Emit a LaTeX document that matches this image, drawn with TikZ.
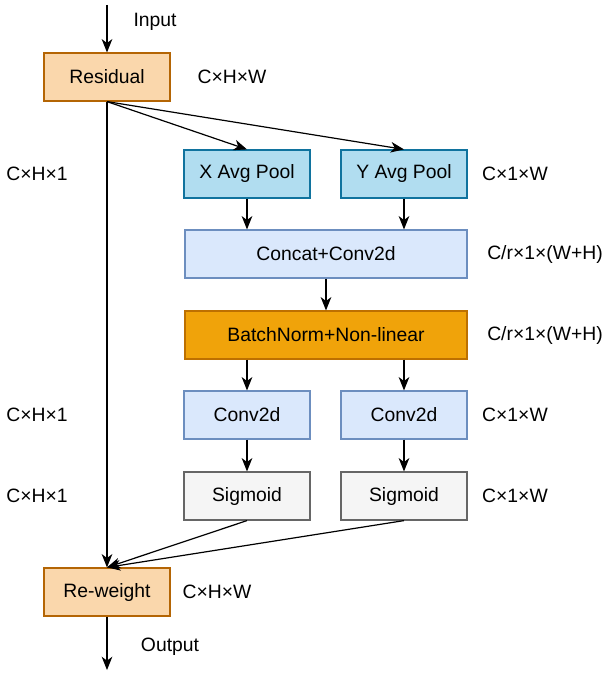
\documentclass[tikz,border=0pt]{standalone}
\usepackage{fontspec}
\setmainfont{Liberation Sans}
\usepackage{xcolor}
\usetikzlibrary{arrows.meta}

\definecolor{resfill}{HTML}{FAD7AC}
\definecolor{resline}{HTML}{B46504}
\definecolor{poolfill}{HTML}{B1DDF0}
\definecolor{poolline}{HTML}{10739E}
\definecolor{convfill}{HTML}{DAE8FC}
\definecolor{convline}{HTML}{6C8EBF}
\definecolor{bnfill}{HTML}{F0A30A}
\definecolor{bnline}{HTML}{BD7000}
\definecolor{sigfill}{HTML}{F5F5F5}
\definecolor{sigline}{HTML}{666666}

\begin{document}
\begin{tikzpicture}[x=0.75pt, y=-0.75pt,
    block/.style={rectangle, draw, line width=0.9pt, minimum width=94.5pt, minimum height=36pt, inner sep=0pt, font=\fontsize{14.5}{17}\selectfont},
    wide/.style={block, minimum width=211.5pt},
    resblock/.style={block, fill=resfill, draw=resline},
    poolblock/.style={block, fill=poolfill, draw=poolline},
    convblock/.style={block, fill=convfill, draw=convline},
    sigblock/.style={block, fill=sigfill, draw=sigline},
    dim/.style={font=\fontsize{14.5}{17}\selectfont, inner sep=0pt},
    arr/.style={-{Stealth[length=10pt, width=8pt, inset=3pt]}, line width=0.9pt}]

    \useasboundingbox (0,0) rectangle (608,674);

    \node[resblock] (res) at (107,77) {Residual};
    \node[poolblock] (xpool) at (247,174) {X Avg Pool};
    \node[poolblock] (ypool) at (404,174) {Y Avg Pool};
    \node[convblock, wide] (cat) at (326,254) {Concat+Conv2d};
    \node[block, wide, fill=bnfill, draw=bnline] (bn) at (326,335) {BatchNorm+Non-linear};
    \node[convblock] (convx) at (247,415) {Conv2d};
    \node[convblock] (convy) at (404,415) {Conv2d};
    \node[sigblock] (sigx) at (247,496) {Sigmoid};
    \node[sigblock] (sigy) at (404,496) {Sigmoid};
    \node[resblock] (rw) at (107,592) {Re-weight};

    \coordinate (in) at (107,5);
    \coordinate (out) at (107,670);

    \node[dim] (lin) at (155,22) {Input};
    \node[dim] (lout) at (170,647) {Output};
    \node[dim] (dres) at (232,77) {C×H×W};
    \node[dim] (dxl) at (37,174) {C×H×1};
    \node[dim] (dyr) at (515,174) {C×1×W};
    \node[dim] (dcat) at (545,254) {C/r×1×(W+H)};
    \node[dim] (dbn) at (545,335) {C/r×1×(W+H)};
    \node[dim] (dcxl) at (37,415) {C×H×1};
    \node[dim] (dcyr) at (515,415) {C×1×W};
    \node[dim] (dsxl) at (37,496) {C×H×1};
    \node[dim] (dsyr) at (515,496) {C×1×W};
    \node[dim] (drw) at (217,592) {C×H×W};

    \draw[arr] (in) -- (res);
    \draw[arr] (res.south) -- (xpool.north);
    \draw[arr] (res.south) -- (ypool.north);
    \draw[arr] (xpool) -- (xpool |- cat.north);
    \draw[arr] (ypool) -- (ypool |- cat.north);
    \draw[arr] (cat) -- (bn);
    \draw[arr] (convx |- bn.south) -- (convx);
    \draw[arr] (convy |- bn.south) -- (convy);
    \draw[arr] (convx) -- (sigx);
    \draw[arr] (convy) -- (sigy);
    \draw[arr] (res.south) -- (rw.north);
    \draw[arr] (sigx.south) -- (rw.north);
    \draw[arr] (sigy.south) -- (rw.north);
    \draw[arr] (rw) -- (out);
\end{tikzpicture}
\end{document}
